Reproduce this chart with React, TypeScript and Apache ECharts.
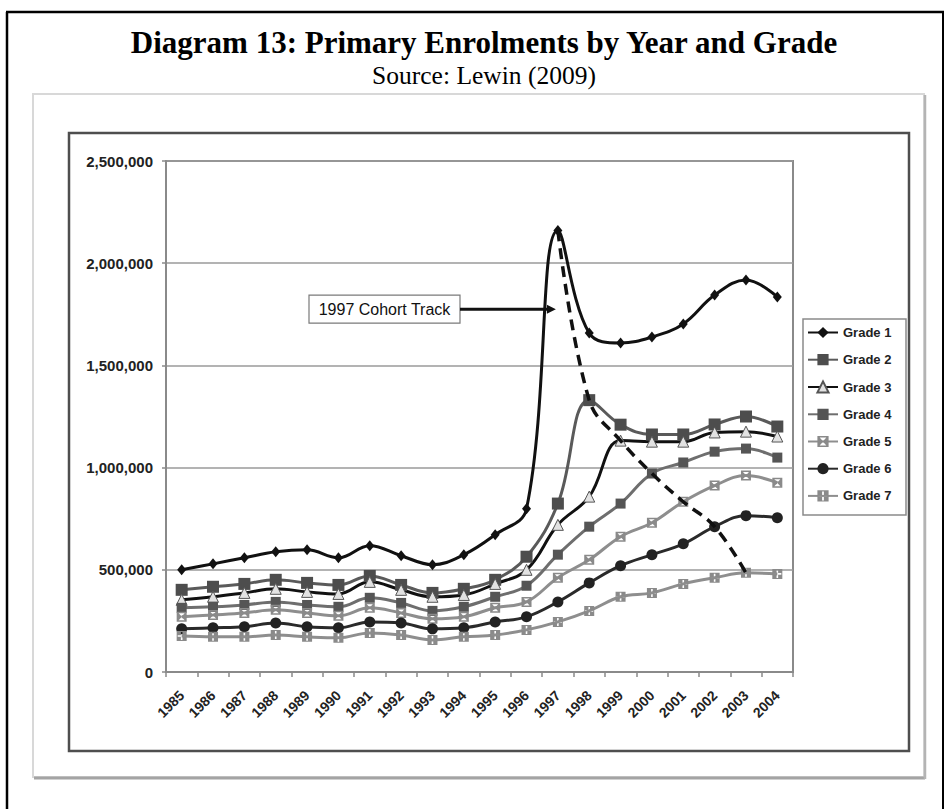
import React, { useEffect, useRef } from "react";
import * as echarts from "echarts";

// Enrolment by school year, Grade 1 to Grade 7
const years = [
  "1985", "1986", "1987", "1988", "1989", "1990", "1991", "1992", "1993", "1994",
  "1995", "1996", "1997", "1998", "1999", "2000", "2001", "2002", "2003", "2004",
];

const grade1 = [500000, 529000, 559000, 588000, 598000, 559000, 618000, 569000, 525000, 574000, 672000, 799000, 2160000, 1658000, 1610000, 1639000, 1703000, 1844000, 1918000, 1835000];
const grade2 = [402000, 417000, 431000, 451000, 436000, 426000, 470000, 426000, 387000, 407000, 451000, 564000, 824000, 1330000, 1210000, 1162000, 1162000, 1211000, 1250000, 1201000];
const grade3 = [353000, 368000, 387000, 407000, 392000, 382000, 441000, 402000, 368000, 377000, 431000, 500000, 720000, 858000, 1132000, 1127000, 1127000, 1172000, 1176000, 1152000];
const grade4 = [314000, 319000, 328000, 343000, 328000, 319000, 363000, 338000, 299000, 319000, 368000, 422000, 574000, 711000, 824000, 971000, 1025000, 1078000, 1093000, 1049000];
const grade5 = [270000, 279000, 289000, 304000, 289000, 275000, 314000, 289000, 260000, 270000, 314000, 343000, 461000, 549000, 662000, 730000, 833000, 912000, 961000, 926000];
const grade6 = [211000, 216000, 221000, 240000, 221000, 216000, 245000, 240000, 211000, 216000, 245000, 270000, 343000, 436000, 520000, 574000, 627000, 711000, 765000, 755000];
const grade7 = [176000, 172000, 172000, 181000, 172000, 167000, 191000, 181000, 157000, 172000, 181000, 206000, 245000, 299000, 368000, 387000, 431000, 461000, 485000, 480000];

// The children who entered Grade 1 in 1997, followed up the grades
const cohort1997 = [null, null, null, null, null, null, null, null, null, null, null, null, 2160000, 1330000, 1132000, 971000, 833000, 711000, 485000, null];

const yTicks = [0, 500000, 1000000, 1500000, 2000000, 2500000];

const gradeNames = ["Grade 1", "Grade 2", "Grade 3", "Grade 4", "Grade 5", "Grade 6", "Grade 7"];

// marker shapes: a square with an hourglass cut out, a square with a cross cut out
const hourglassBox = "path://M0,0L10,0L10,10L0,10Z M2,1.5L5,4.7L8,1.5Z M2,8.5L8,8.5L5,5.3Z";
const crossBox = "path://M0,0L10,0L10,10L0,10Z M4.2,1L4.2,4.2L1,4.2L1,5.8L4.2,5.8L4.2,9L5.8,9L5.8,5.8L9,5.8L9,4.2L5.8,4.2L5.8,1Z";

const SANS = "'Liberation Sans', Arial, sans-serif";
const SERIF = "'Liberation Serif', 'Times New Roman', serif";

function gradeSeries(
  name: string,
  data: number[],
  lineColor: string,
  symbol: string,
  symbolSize: number | number[],
  fill: string,
  border?: string
) {
  return {
    name,
    type: "line",
    data,
    smooth: 0.4,
    symbol,
    symbolSize,
    showSymbol: true,
    lineStyle: { color: lineColor, width: 3 },
    itemStyle: border
      ? { color: fill, borderColor: border, borderWidth: 1 }
      : { color: fill, borderWidth: 0 },
    z: 2,
  };
}

export default function App() {
  const ref = useRef<HTMLDivElement>(null);

  useEffect(() => {
    if (!ref.current) return;
    const chart = echarts.init(ref.current, null, { renderer: "svg" });

    const frames: any[] = [
      // page frame
      { type: "line", shape: { x1: 6, y1: 12, x2: 944, y2: 12 }, style: { stroke: "#000", lineWidth: 2.5 } },
      { type: "line", shape: { x1: 7, y1: 12, x2: 7, y2: 809 }, style: { stroke: "#000", lineWidth: 2.5 } },
      { type: "line", shape: { x1: 943, y1: 12, x2: 943, y2: 809 }, style: { stroke: "#000", lineWidth: 2 } },
      // outer chart area
      { type: "rect", shape: { x: 33, y: 94, width: 891, height: 683 }, style: { fill: "#fff", stroke: "#d8d8d8", lineWidth: 2 }, z: -10 },
      { type: "line", shape: { x1: 34, y1: 778, x2: 925, y2: 778 }, style: { stroke: "#a4a4a4", lineWidth: 3 }, z: -9 },
      { type: "line", shape: { x1: 925, y1: 95, x2: 925, y2: 779 }, style: { stroke: "#b4b4b4", lineWidth: 2.5 }, z: -9 },
      // inner chart border
      { type: "rect", shape: { x: 69, y: 133, width: 840, height: 618 }, style: { fill: "none", stroke: "#4e4e4e", lineWidth: 2.5 }, z: -8 },
      // legend box
      { type: "rect", shape: { x: 803, y: 319, width: 103, height: 196 }, style: { fill: "#fff", stroke: "#8a8a8a", lineWidth: 1.5 }, z: -7 },
      // heading
      {
        type: "text",
        style: {
          x: 484, y: 42.5, text: "Diagram 13: Primary Enrolments by Year and Grade",
          fill: "#000", fontFamily: SERIF, fontWeight: "bold", fontSize: 31,
          align: "center", verticalAlign: "middle",
        },
      },
      {
        type: "text",
        style: {
          x: 484, y: 75.5, text: "Source: Lewin (2009)",
          fill: "#000", fontFamily: SERIF, fontSize: 25.5,
          align: "center", verticalAlign: "middle",
        },
      },
    ];

    const option: any = {
      animation: false,
      backgroundColor: "#fff",
      grid: {
        left: 166, top: 161, width: 627, height: 511,
        show: true, borderColor: "#8a8a8a", borderWidth: 2,
        backgroundColor: "transparent",
      },
      legend: {
        data: gradeNames,
        orient: "vertical",
        left: 803,
        top: 319,
        padding: [7, 6, 6, 4],
        itemWidth: 30,
        itemHeight: 14,
        itemGap: 14.2,
        textStyle: { fontFamily: SANS, fontWeight: "bold", fontSize: 13, color: "#222" },
        selectedMode: false,
      },
      xAxis: {
        type: "category",
        data: years,
        boundaryGap: true,
        axisLine: { show: true, lineStyle: { color: "#8a8a8a", width: 2 } },
        axisTick: { show: true, interval: 0, length: 5, lineStyle: { color: "#8a8a8a", width: 1.5 } },
        axisLabel: {
          interval: 0, rotate: 45, margin: 21,
          fontFamily: SANS, fontWeight: "bold", fontSize: 14, color: "#222",
        },
        splitLine: { show: false },
      },
      yAxis: {
        type: "value",
        min: yTicks[0],
        max: yTicks[yTicks.length - 1],
        interval: yTicks[1] - yTicks[0],
        axisLine: { show: true, lineStyle: { color: "#8a8a8a", width: 2 } },
        axisTick: { show: true, length: 4, lineStyle: { color: "#8a8a8a", width: 1.5 } },
        axisLabel: {
          margin: 13,
          fontFamily: SANS, fontWeight: "bold", fontSize: 15, color: "#222",
          formatter: (v: number) => v.toLocaleString("en-US"),
        },
        splitLine: { show: true, lineStyle: { color: "#9a9a9a", width: 1.5 } },
      },
      graphic: frames,
      series: [
        gradeSeries("Grade 1", grade1, "#111", "diamond", [9, 11], "#111"),
        gradeSeries("Grade 2", grade2, "#5a5a5a", "rect", 12, "#4d4d4d"),
        gradeSeries("Grade 3", grade3, "#111", "triangle", 11, "#e2e2e2", "#555"),
        gradeSeries("Grade 4", grade4, "#6e6e6e", "rect", 10, "#555"),
        gradeSeries("Grade 5", grade5, "#8e8e8e", hourglassBox, 10, "#8a8a8a"),
        gradeSeries("Grade 6", grade6, "#2a2a2a", "circle", 11, "#222"),
        gradeSeries("Grade 7", grade7, "#8e8e8e", crossBox, 10, "#8a8a8a"),
        {
          name: "1997 Cohort Track",
          type: "line",
          data: cohort1997,
          smooth: 0.4,
          symbol: "none",
          connectNulls: false,
          lineStyle: { color: "#111", width: 3.5, type: [11, 7] },
          z: 4,
        },
      ],
    };

    chart.setOption(option);

    // callout pointing at the Grade 1 intake of 1997
    const [tipX, tipY] = chart.convertToPixel({ gridIndex: 0 }, [12, 1775000]) as number[];
    const arrowTip = tipX - 2;
    const callout: any[] = [
      { type: "rect", shape: { x: 309, y: tipY - 14, width: 151, height: 28 }, style: { fill: "#fff", stroke: "#7a7a7a", lineWidth: 1.2 }, z: 10 },
      {
        type: "text", z: 11,
        style: {
          x: 384.5, y: tipY, text: "1997 Cohort Track",
          fill: "#111", fontFamily: SANS, fontSize: 16,
          align: "center", verticalAlign: "middle",
        },
      },
      { type: "line", shape: { x1: 460, y1: tipY, x2: arrowTip - 6, y2: tipY }, style: { stroke: "#111", lineWidth: 3 }, z: 10 },
      { type: "polygon", shape: { points: [[arrowTip, tipY], [arrowTip - 9, tipY - 4.5], [arrowTip - 9, tipY + 4.5]] }, style: { fill: "#111" }, z: 10 },
    ];
    chart.setOption({ graphic: [...frames, ...callout] });

    return () => chart.dispose();
  }, []);

  return (
    <div
      ref={ref}
      style={{ position: "fixed", left: 0, top: 0, width: 947, height: 809, background: "#fff" }}
    />
  );
}
